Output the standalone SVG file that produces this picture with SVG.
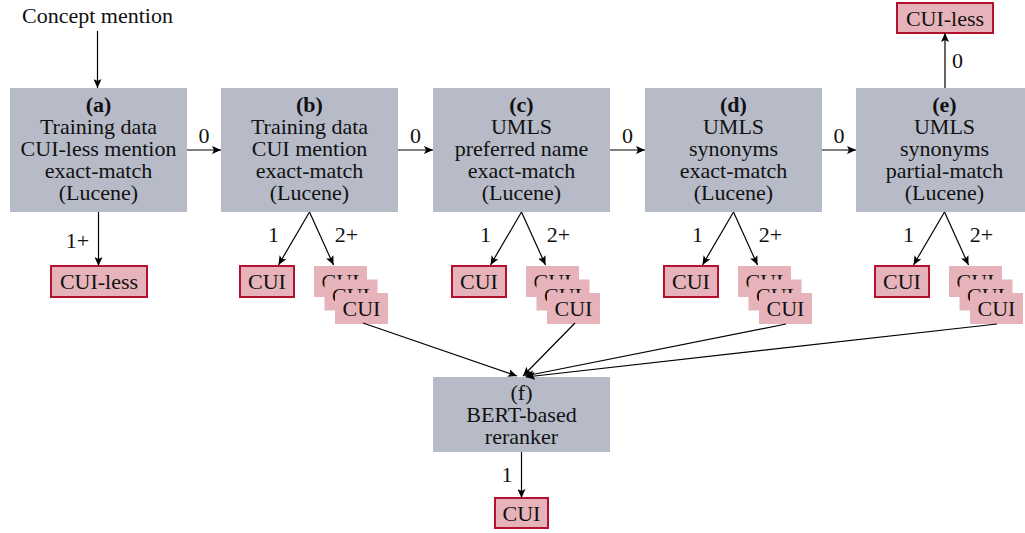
<svg xmlns="http://www.w3.org/2000/svg" width="1025" height="533" viewBox="0 0 1025 533">
<style>
text{font-family:"Liberation Serif","Times New Roman",serif;font-size:22px;fill:#111;text-anchor:middle}
.b{font-weight:bold}
.box{fill:#b6bbc7}
.cui{fill:#e6b3bb;stroke:#b3112e;stroke-width:2}
.st{fill:#e6b3bb}
.e{stroke:#000;stroke-width:1.2;fill:none;marker-end:url(#ah)}
</style>
<defs>
<marker id="ah" markerWidth="10" markerHeight="8" refX="9" refY="4" orient="auto" markerUnits="userSpaceOnUse">
<path d="M0,0 L9,4 L0,8 L2,4 Z" fill="#000"/>
</marker>
</defs>
<rect width="1025" height="533" fill="#fff"/>

<g id="start"><text x="97.5" y="23">Concept mention</text></g>

<g id="a">
<rect class="box" x="10" y="88" width="177" height="124"/>
<text x="98.5" y="112" class="b">(a)</text>
<text x="98.5" y="134">Training data</text>
<text x="98.5" y="156">CUI-less mention</text>
<text x="98.5" y="178">exact-match</text>
<text x="98.5" y="200">(Lucene)</text>
</g>
<g id="b">
<rect class="box" x="221" y="88" width="177" height="124"/>
<text x="309.5" y="112" class="b">(b)</text>
<text x="309.5" y="134">Training data</text>
<text x="309.5" y="156">CUI mention</text>
<text x="309.5" y="178">exact-match</text>
<text x="309.5" y="200">(Lucene)</text>
</g>
<g id="c">
<rect class="box" x="433" y="88" width="177" height="124"/>
<text x="521.5" y="112" class="b">(c)</text>
<text x="521.5" y="134">UMLS</text>
<text x="521.5" y="156">preferred name</text>
<text x="521.5" y="178">exact-match</text>
<text x="521.5" y="200">(Lucene)</text>
</g>
<g id="d">
<rect class="box" x="645" y="88" width="177" height="124"/>
<text x="733.5" y="112" class="b">(d)</text>
<text x="733.5" y="134">UMLS</text>
<text x="733.5" y="156">synonyms</text>
<text x="733.5" y="178">exact-match</text>
<text x="733.5" y="200">(Lucene)</text>
</g>
<g id="e">
<rect class="box" x="856" y="88" width="177" height="124"/>
<text x="944.5" y="112" class="b">(e)</text>
<text x="944.5" y="134">UMLS</text>
<text x="944.5" y="156">synonyms</text>
<text x="944.5" y="178">partial-match</text>
<text x="944.5" y="200">(Lucene)</text>
</g>
<g id="f">
<rect class="box" x="433" y="377" width="177" height="75"/>
<text x="521.5" y="400">(f)</text>
<text x="521.5" y="422">BERT-based</text>
<text x="521.5" y="444">reranker</text>
</g>

<g id="cuiless-a"><rect class="cui" x="51" y="266" width="96" height="31"/><text x="99" y="289">CUI-less</text></g>
<g id="cuiless-e"><rect class="cui" x="897" y="3" width="96" height="30"/><text x="945" y="26">CUI-less</text></g>

<g id="cui-b"><rect class="cui" x="240" y="266" width="54" height="31"/><text x="267" y="289">CUI</text></g>
<g id="cui-c"><rect class="cui" x="452" y="266" width="54" height="31"/><text x="479" y="289">CUI</text></g>
<g id="cui-d"><rect class="cui" x="664" y="266" width="54" height="31"/><text x="691" y="289">CUI</text></g>
<g id="cui-e"><rect class="cui" x="875" y="266" width="54" height="31"/><text x="902" y="289">CUI</text></g>
<g id="cui-f"><rect class="cui" x="495" y="498" width="53" height="30"/><text x="521.5" y="521">CUI</text></g>

<g id="stack-b">
<rect class="st" x="314" y="266" width="53" height="31"/><text x="340.5" y="289">CUI</text>
<rect class="st" x="324.5" y="279.5" width="53" height="31"/><text x="351" y="302.5">CUI</text>
<rect class="st" x="335" y="293" width="53" height="31"/><text x="361.5" y="316">CUI</text>
</g>
<g id="stack-c">
<rect class="st" x="526" y="266" width="53" height="31"/><text x="552.5" y="289">CUI</text>
<rect class="st" x="536.5" y="279.5" width="53" height="31"/><text x="563" y="302.5">CUI</text>
<rect class="st" x="547" y="293" width="53" height="31"/><text x="573.5" y="316">CUI</text>
</g>
<g id="stack-d">
<rect class="st" x="738" y="266" width="53" height="31"/><text x="764.5" y="289">CUI</text>
<rect class="st" x="748.5" y="279.5" width="53" height="31"/><text x="775" y="302.5">CUI</text>
<rect class="st" x="759" y="293" width="53" height="31"/><text x="785.5" y="316">CUI</text>
</g>
<g id="stack-e">
<rect class="st" x="949" y="266" width="53" height="31"/><text x="975.5" y="289">CUI</text>
<rect class="st" x="959.5" y="279.5" width="53" height="31"/><text x="986" y="302.5">CUI</text>
<rect class="st" x="970" y="293" width="53" height="31"/><text x="996.5" y="316">CUI</text>
</g>

<g id="connectors">
<path class="e" d="M97.5,31 V88"/>
<path class="e" d="M98.5,212 V266"/>
<text x="77.5" y="248">1+</text>
<path class="e" d="M945,88 V33"/>
<text x="957.5" y="68">0</text>

<path class="e" d="M187,150 H221"/><text x="204" y="143">0</text>
<path class="e" d="M398,150 H433"/><text x="415.5" y="143">0</text>
<path class="e" d="M610,150 H645"/><text x="627.5" y="143">0</text>
<path class="e" d="M822,150 H856"/><text x="839" y="143">0</text>

<path class="e" d="M309.5,212 L278.5,265"/><path class="e" d="M309.5,212 L333.5,265"/>
<text x="273.5" y="242">1</text><text x="346.5" y="242">2+</text>
<path class="e" d="M521.5,212 L490.5,265"/><path class="e" d="M521.5,212 L545.5,265"/>
<text x="485.5" y="242">1</text><text x="558.5" y="242">2+</text>
<path class="e" d="M733.5,212 L702.5,265"/><path class="e" d="M733.5,212 L757.5,265"/>
<text x="697.5" y="242">1</text><text x="770.5" y="242">2+</text>
<path class="e" d="M944.5,212 L913.5,265"/><path class="e" d="M944.5,212 L968.5,265"/>
<text x="908.5" y="242">1</text><text x="981.5" y="242">2+</text>

<path class="e" d="M363,323 L517,376"/>
<path class="e" d="M575,323 L523,376"/>
<path class="e" d="M786,324 L525,376"/>
<path class="e" d="M997,324 L526,377"/>

<path class="e" d="M521.5,452 V498"/>
<text x="507" y="482">1</text>
</g>
</svg>
